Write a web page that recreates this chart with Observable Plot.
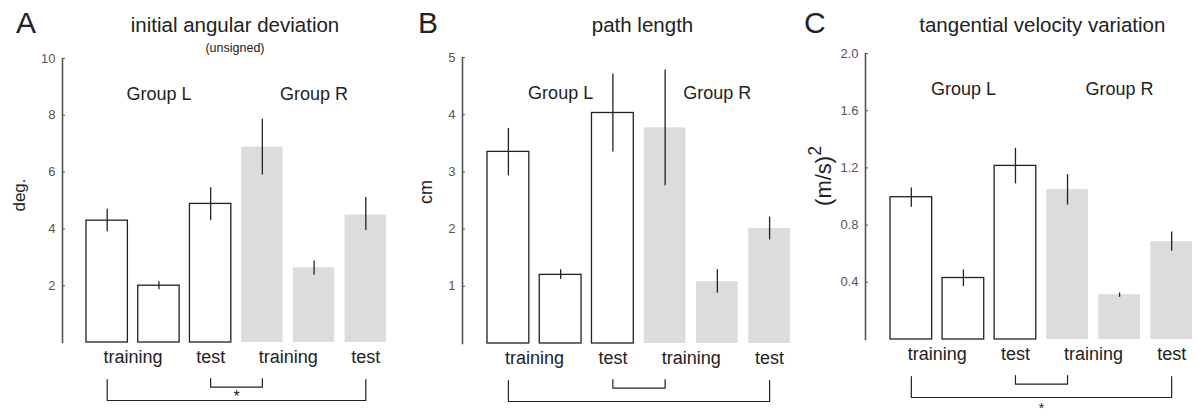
<!DOCTYPE html>
<html><head><meta charset="utf-8">
<script src="https://cdn.jsdelivr.net/npm/d3@7"></script>
<script src="https://cdn.jsdelivr.net/npm/@observablehq/plot@0.6"></script>
<style>
body{margin:0;background:#fff;font-family:"Liberation Sans",Arial,sans-serif;color:#222}
#wrap{position:relative;width:1197px;height:417px;overflow:hidden}
.panel{position:absolute;top:0;height:417px}
.panel svg{position:absolute;left:0;top:0;overflow:visible}
.lab{position:absolute;white-space:nowrap;line-height:1}
.ylab{position:absolute;white-space:nowrap;line-height:1;transform:translate(-50%,-50%) rotate(-90deg)}
</style></head><body><div id="wrap"></div><script>
// ---- data ----
const barIndex = [0, 1, 2, 3, 4, 5];
const barGroup = ["L", "L", "L", "R", "R", "R"];
const groupNames = ["Group L", "Group R"];
const groupPos = [1, 4];
const phaseLabels = ["training", "test", "training", "test"];
const phasePos = [0.5, 2, 3.5, 5];
const bracketPairs = [[0, 5], [2, 3]];

const meanA = [4.29, 2.00, 4.88, 6.88, 2.63, 4.49];
const loA   = [3.90, 1.86, 4.29, 5.90, 2.38, 3.94];
const hiA   = [4.69, 2.14, 5.45, 7.86, 2.87, 5.11];
const ticksA = [2, 4, 6, 8, 10];

const meanB = [3.35, 1.20, 4.03, 3.77, 1.08, 2.01];
const loB   = [2.93, 1.12, 3.35, 2.76, 0.88, 1.81];
const hiB   = [3.76, 1.29, 4.71, 4.78, 1.29, 2.21];
const ticksB = [1, 2, 3, 4, 5];

const meanC = [0.995, 0.43, 1.214, 1.048, 0.313, 0.684];
const loC   = [0.925, 0.37, 1.088, 0.940, 0.295, 0.617];
const hiC   = [1.060, 0.486, 1.337, 1.153, 0.325, 0.752];
const ticksC = [0.4, 0.8, 1.2, 1.6, 2.0];

const panels = [
  {letter: "A", title: "initial angular deviation", sub: "(unsigned)", ylabel: "deg.",
   mean: meanA, lo: loA, hi: hiA, ticks: ticksA, fmt: d3.format("d"), ymax: 10, star: 1, starDy: 59, starSize: 16,
   left: 0, width: 400, ml: 62, mt: 58, mb: 75, xr: [86, 386], titleX: 235, letterX: 16, ylabX: 19, ylabY: 195, ylabSize: 17},
  {letter: "B", title: "path length", sub: null, ylabel: "cm",
   mean: meanB, lo: loB, hi: hiB, ticks: ticksB, fmt: d3.format("d"), ymax: 5, star: null,
   left: 400, width: 397, ml: 62, mt: 57, mb: 74, xr: [87, 390], titleX: 242.5, letterX: 18, ylabX: 26, ylabY: 192, ylabSize: 18},
  {letter: "C", title: "tangential velocity variation", sub: null, ylabel: "(m/s)<sup style='font-size:0.8em;vertical-align:0.55em'>2</sup>",
   mean: meanC, lo: loC, hi: hiC, ticks: ticksC, fmt: d3.format(".1f"), ymax: 2, star: 0, starDy: 73, starSize: 14,
   left: 797, width: 400, ml: 68, mt: 53, mb: 78, xr: [93, 395], titleX: 245.3, letterX: 7, ylabX: 24, ylabY: 176, ylabSize: 22}
];

const wrap = document.getElementById("wrap");
const H = 417;
const ink = "#222";

for (const p of panels) {
  const div = document.createElement("div");
  div.className = "panel";
  div.style.left = p.left + "px";
  div.style.width = p.width + "px";
  wrap.appendChild(div);

  const bars = barIndex.map((i) => ({i, g: barGroup[i], m: p.mean[i], lo: p.lo[i], hi: p.hi[i]}));
  const plotH = H - p.mt - p.mb;
  const depth = (px) => -px * p.ymax / plotH;   // pixels below the baseline, in data units
  const brackets = bracketPairs.map(([a, b], k) => {
    const top = k === 0 ? 37 : 36, bot = k === 0 ? 58 : 44.7;
    return [
      {k, x: a, y: depth(top)}, {k, x: a, y: depth(bot)},
      {k, x: b, y: depth(bot)}, {k, x: b, y: depth(top)}
    ];
  }).flat();
  const phases = phaseLabels.map((t, j) => ({t, x: phasePos[j]}));
  const groups = groupNames.map((t, j) => ({t, x: groupPos[j]}));
  const stars = p.star == null ? [] : [{x: (bracketPairs[p.star][0] + bracketPairs[p.star][1]) / 2}];

  const chart = Plot.plot({
    width: p.width, height: H,
    marginLeft: p.ml, marginTop: p.mt, marginBottom: p.mb, marginRight: 0,
    style: {fontFamily: '"Liberation Sans", Arial, sans-serif', background: "transparent", overflow: "visible"},
    x: {type: "linear", domain: [-0.4, 5.4], range: p.xr, axis: null},
    y: {domain: [0, p.ymax], axis: null},
    marks: [
      Plot.rectY(bars.filter((d) => d.g === "R"), {x1: (d) => d.i - 0.4, x2: (d) => d.i + 0.4, y1: 0, y2: "m", fill: "#dcdcde"}),
      Plot.rectY(bars.filter((d) => d.g === "L"), {x1: (d) => d.i - 0.4, x2: (d) => d.i + 0.4, y1: 0, y2: "m", fill: "white", stroke: ink, strokeWidth: 1.3}),
      Plot.ruleX(bars, {x: "i", y1: "lo", y2: "hi", stroke: ink, strokeWidth: 1.3}),
      Plot.frame({anchor: "left", stroke: "#555", strokeWidth: 1.6}),
      Plot.axisY({ticks: p.ticks, tickFormat: p.fmt, tickSize: -3, tickPadding: 10, fontSize: 13, color: "#555"}),
      Plot.text(groups, {x: "x", text: "t", frameAnchor: "top", dy: 29, fontSize: 18, fill: ink}),
      Plot.text(phases, {x: "x", text: "t", frameAnchor: "bottom", dy: 20, fontSize: 18, fill: ink}),
      Plot.line(brackets, {x: "x", y: "y", z: "k", stroke: ink, strokeWidth: 1.2}),
      Plot.text(stars, {x: "x", text: () => "*", frameAnchor: "bottom", dy: p.starDy, fontSize: p.starSize, fill: ink})
    ]
  });
  div.appendChild(chart);

  const L = document.createElement("div");
  L.className = "lab"; L.textContent = p.letter;
  L.style.cssText += `left:${p.letterX}px;top:8px;font-size:30px;`;
  div.appendChild(L);

  const T = document.createElement("div");
  T.className = "lab"; T.textContent = p.title;
  T.style.cssText += `left:${p.titleX}px;top:15px;font-size:20.5px;transform:translateX(-50%);`;
  div.appendChild(T);

  if (p.sub) {
    const S = document.createElement("div");
    S.className = "lab"; S.textContent = p.sub;
    S.style.cssText += `left:${p.titleX}px;top:42px;font-size:12.5px;transform:translateX(-50%);`;
    div.appendChild(S);
  }

  const Y = document.createElement("div");
  Y.className = "ylab"; Y.innerHTML = p.ylabel;
  Y.style.cssText += `left:${p.ylabX}px;top:${p.ylabY}px;font-size:${p.ylabSize}px;`;
  div.appendChild(Y);
}
</script></body></html>
